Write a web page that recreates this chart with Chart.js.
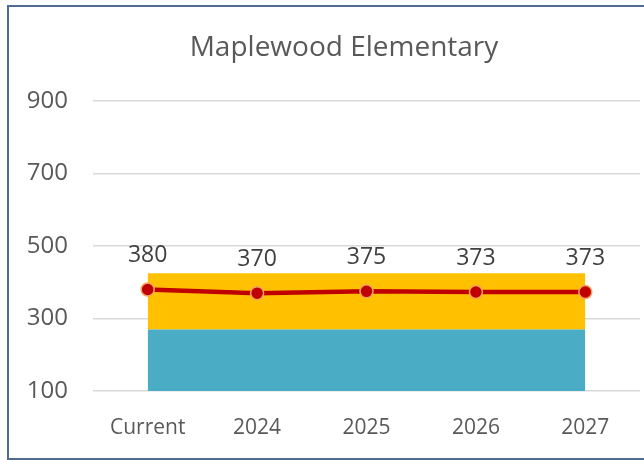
<!DOCTYPE html>
<html>
<head>
<meta charset="utf-8">
<script src="https://cdn.jsdelivr.net/npm/chart.js@4/dist/chart.umd.min.js"></script>
<style>
  html, body { margin: 0; padding: 0; background: #fff; overflow: hidden; }
  #wrap { width: 644px; height: 460px; }
</style>
</head>
<body>
<div id="wrap"><canvas id="chart" width="644" height="460"></canvas></div>
<script>
// chart values
const chartTitle = 'Maplewood Elementary';
const categories = ['Current', '2024', '2025', '2026', '2027'];
const baseCapacity = [270, 270, 270, 270, 270];
const upperRange = [155, 155, 155, 155, 155];
const enrollment = [380, 370, 375, 373, 373];
const yTicks = [100, 300, 500, 700, 900];

document.addEventListener('DOMContentLoaded', function() {
    const ctx = document.getElementById('chart').getContext('2d');
    const font = "'Open Sans', sans-serif";

    // outer frame and title, centred on the whole (wider) chart object
    const framePlugin = {
        id: 'frame',
        beforeDraw(chart) {
            const c = chart.ctx;
            c.save();
            c.fillStyle = '#ffffff';
            c.fillRect(0, 0, chart.width, chart.height);
            c.strokeStyle = '#4F6D93';
            c.lineWidth = 2;
            c.strokeRect(8, 6, 660, 453);
            c.font = '28px ' + font;
            c.fillStyle = '#595959';
            c.textAlign = 'center';
            c.textBaseline = 'middle';
            c.fillText(chartTitle, 344, 48);
            c.restore();
        }
    };

    // value labels above the line points
    const labelPlugin = {
        id: 'valueLabels',
        afterDatasetsDraw(chart) {
            const c = chart.ctx;
            const meta = chart.getDatasetMeta(2);
            c.save();
            c.font = '23px ' + font;
            c.fillStyle = '#404040';
            c.textAlign = 'center';
            c.textBaseline = 'middle';
            meta.data.forEach((pt, i) => {
                c.fillText(String(enrollment[i]), pt.x, pt.y - 34);
            });
            c.restore();
        }
    };

    new Chart(ctx, {
        type: 'line',
        data: {
            labels: categories,
            datasets: [{
                label: 'Base',
                data: baseCapacity,
                backgroundColor: '#4BACC6',
                borderWidth: 0,
                pointRadius: 0,
                fill: 'start',
                stack: 'area',
                order: 1
            }, {
                label: 'Range',
                data: upperRange,
                backgroundColor: '#FFC000',
                borderWidth: 0,
                pointRadius: 0,
                fill: '-1',
                stack: 'area',
                order: 2
            }, {
                label: 'Enrollment',
                data: enrollment,
                borderColor: '#C00000',
                borderWidth: 4.5,
                pointRadius: 6.5,
                pointBackgroundColor: '#C00000',
                pointBorderColor: '#F4A460',
                pointBorderWidth: 1.5,
                fill: false,
                stack: 'line',
                order: 0
            }]
        },
        options: {
            responsive: false,
            animation: false,
            layout: {
                autoPadding: false,
                padding: { left: 0, right: 4, top: 101, bottom: 0 }
            },
            plugins: {
                legend: { display: false },
                tooltip: { enabled: false },
                title: { display: false }
            },
            scales: {
                x: {
                    offset: true,
                    grid: { display: false, drawTicks: false },
                    border: { display: false },
                    ticks: {
                        color: '#595959',
                        font: { family: font, size: 21 },
                        padding: 24,
                        maxRotation: 0
                    },
                    afterFit(scale) {
                        scale.height = 69;
                        scale.paddingLeft = 0;
                        scale.paddingRight = 0;
                    }
                },
                y: {
                    stacked: true,
                    min: 100,
                    max: 900,
                    afterBuildTicks(scale) {
                        scale.ticks = yTicks.map(v => ({ value: v }));
                    },
                    grid: { color: '#D9D9D9', lineWidth: 1.5, drawTicks: false },
                    border: { display: false },
                    ticks: {
                        color: '#595959',
                        font: { family: font, size: 24 },
                        padding: 25
                    },
                    afterFit(scale) { scale.width = 93; }
                }
            }
        },
        plugins: [framePlugin, labelPlugin]
    });
});
</script>
</body>
</html>
